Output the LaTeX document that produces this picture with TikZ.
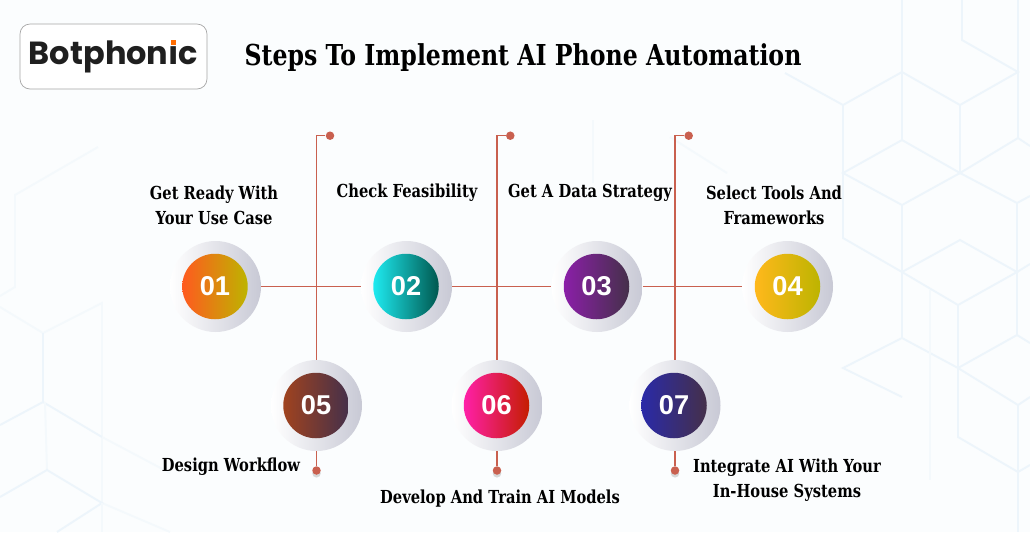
\documentclass[tikz,border=0pt]{standalone}
\usepackage{fontspec}
\usetikzlibrary{shadows}
\newfontfamily\slabfont[FakeStretch=0.82]{DejaVu Serif}
\newfontfamily\numfont{Liberation Sans}
\newfontfamily\logofont{Poppins}
\definecolor{pagebg}{HTML}{FBFDFE}
\definecolor{hexblue}{HTML}{EDF5FB}
\definecolor{hexpale}{HTML}{F4F9FC}
\definecolor{linkred}{HTML}{C9604F}
\definecolor{ringgray}{HTML}{C8C9D5}
\definecolor{plumdark}{HTML}{45304A}
\definecolor{olivegold}{HTML}{BDB400}
\begin{document}
\begin{tikzpicture}[x=0.02cm,y=-0.02cm,
    hexline/.style ={hexblue, line width=1.1pt},
    hexfaint/.style ={hexpale, line width=1.1pt},
    ringstep/.style ={circle, minimum size=1.82cm, inner sep=0pt, left color=white, right color=ringgray},
    stepdisc/.style ={circle, minimum size=1.31cm, inner sep=0pt, text=white, font=\numfont\bfseries\fontsize{15.5}{16}\selectfont},
    steptext/.style ={align=center, inner sep=0pt, font=\slabfont\bfseries\fontsize{10.2}{14.2}\selectfont},
    endmark/.style ={circle, fill=linkred, minimum size=0.17cm, inner sep=0pt},
    lowmark/.style ={endmark, drop shadow={shadow xshift=0pt, shadow yshift=-1.6pt, opacity=0.3}},
    link/.style ={linkred, line width=0.7pt}]
   \fill[pagebg] (0,0) rectangle (1030,532);
   \useasboundingbox (0,0) rectangle (1030,532);

   \draw[hexline] (785,73) -- (843,105) -- (902,72) -- (960,105) -- (1018,72) -- (962,40) -- (962,0);
   \draw[hexline] (902,0) -- (902,140) -- (960,173) -- (1018,138) -- (1030,146);
   \draw[hexline] (1018,0) -- (1018,138);
   \draw[hexline] (960,105) -- (960,173) -- (902,205) -- (843,173) -- (902,140);
   \draw[hexline] (843,105) -- (843,238) -- (902,272) -- (960,240) -- (1017,272) -- (958,305) -- (902,272);
   \draw[hexline] (960,173) -- (1017,203) -- (1017,335) -- (958,368) -- (902,338) -- (843,368) -- (902,397);
   \draw[hexline] (902,205) -- (902,338);
   \draw[hexline] (1017,272) -- (1030,264);
   \draw[hexline] (1017,203) -- (1030,196);
   \draw[hexline] (1017,335) -- (1030,343);
   \draw[hexline] (958,305) -- (958,437) -- (1018,472) -- (1030,465);
   \draw[hexline] (958,368) -- (1018,405) -- (1030,397);
   \draw[hexline] (1018,405) -- (1018,532);
   \draw[hexfaint] (930,290) -- (930,480);
   \draw[hexfaint] (670,137) -- (727,173);
   \draw[hexfaint] (593,120) -- (593,183);
   \draw[hexfaint] (98,147) -- (15,195) -- (15,287) -- (0,296);
   \draw[hexfaint] (0,307) -- (43,333) -- (102,303) -- (102,503) -- (170,532);
   \draw[hexline] (43,333) -- (43,402) -- (0,425);
   \draw[hexline] (43,402) -- (102,437);
   \draw[hexfaint] (102,437) -- (170,473);
   \draw[hexfaint] (45,402) -- (47,470);
   \draw[hexline] (0,497) -- (47,470) -- (102,503) -- (57,532);
   \draw[hexfaint] (102,503) -- (102,532);

   \node[draw=black!35, fill=white, rounded corners=0.2cm, minimum width=3.74cm, minimum height=1.3cm, inner sep=0pt, font=\logofont\bfseries\fontsize{18.2}{22}\selectfont, text=black!88] (logo) at (113.5,56.5) {Botphon\i c};
   \node[fill=orange!85!red, minimum size=0.094cm, inner sep=0pt] (logodot) at (173.7,42.5) {};
   \node[inner sep=0pt, font=\slabfont\bfseries\fontsize{16.4}{18}\selectfont] (title) at (523,58) {Steps To Implement AI Phone Automation};

   \node[ringstep] (R1) at (215.5,286.5) {};
   \node[ringstep] (R2) at (406.5,286.5) {};
   \node[ringstep] (R3) at (597,286.5) {};
   \node[ringstep] (R4) at (787.5,286.5) {};
   \node[ringstep] (R5) at (316.5,405.5) {};
   \node[ringstep] (R6) at (497,405.5) {};
   \node[ringstep] (R7) at (675,405.5) {};

   \node[stepdisc,left color={rgb,255:red,255;green,90;blue,31},right color=olivegold] (D1) at (215,286.5) {01};
   \node[stepdisc,left color={rgb,255:red,30;green,234;blue,240},right color={rgb,255:red,0;green,88;blue,79}] (D2) at (406,286.5) {02};
   \node[stepdisc,left color={rgb,255:red,139;green,31;blue,168},right color=plumdark] (D3) at (596.5,286.5) {03};
   \node[stepdisc,left color={rgb,255:red,255;green,184;blue,28},right color=olivegold] (D4) at (787.5,286.5) {04};
   \node[stepdisc,left color={rgb,255:red,160;green,67;blue,31},right color=plumdark] (D5) at (316,405.5) {05};
   \node[stepdisc,left color={rgb,255:red,255;green,31;blue,168},right color={rgb,255:red,196;green,30;blue,0}] (D6) at (496.5,405.5) {06};
   \node[stepdisc,left color={rgb,255:red,42;green,42;blue,168},right color=plumdark] (D7) at (674,405.5) {07};

   \node[endmark] (T5) at (330,135.7) {};
   \node[endmark] (T6) at (510.3,135.7) {};
   \node[endmark] (T7) at (688.7,135.7) {};
   \node[lowmark] (B5) at (316.5,470.5) {};
   \node[lowmark] (B6) at (497,470.5) {};
   \node[lowmark] (B7) at (675,470.5) {};

   \draw[link] (R1) to (R2);
   \draw[link] (R2) to (R3);
   \draw[link] (R3) to (R4);
   \draw[link] (R5) |- (T5);
   \draw[link] (R6) |- (T6);
   \draw[link] (R7) |- (T7);
   \draw[link] (R5) to (B5);
   \draw[link] (R6) to (B6);
   \draw[link] (R7) to (B7);

   \node[steptext] (L1) at (214,205) {Get Ready With\\Your Use Case};
   \node[steptext] (L2) at (407,193) {Check Feasibility};
   \node[steptext] (L3) at (590,193) {Get A Data Strategy};
   \node[steptext] (L4) at (774,205) {Select Tools And\\Frameworks};
   \node[steptext] (L5) at (231,467) {Design Workflow};
   \node[steptext] (L6) at (500,499) {Develop And Train AI Models};
   \node[steptext] (L7) at (787,480) {Integrate AI With Your\\In-House Systems};
 \end{tikzpicture}
\end{document}
